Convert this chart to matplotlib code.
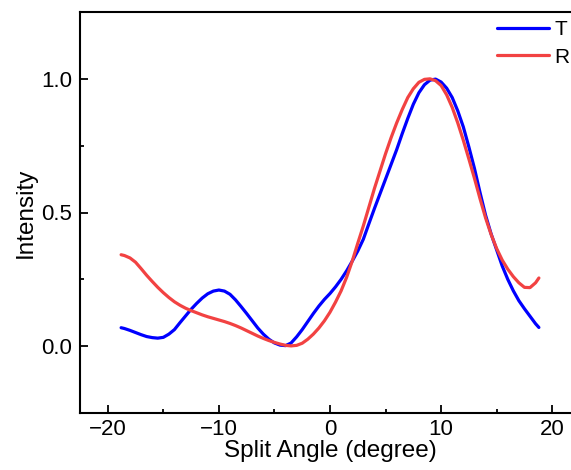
import numpy as np
import matplotlib
matplotlib.use("Agg")
import matplotlib.pyplot as plt
from matplotlib.ticker import MultipleLocator, FormatStrFormatter

# ── Data ──────────────────────────────────────────────────────────────────────
angle = [-18.8, -18.5, -18, -17.5, -17, -16.5, -16, -15.5, -15, -14.5, -14,
         -13.5, -13, -12.5, -12, -11.5, -11, -10.5, -10, -9.5, -9, -8.5, -8,
         -7.5, -7, -6.5, -6, -5.5, -5, -4.5, -4, -3.5, -3, -2.5, -2, -1.5, -1,
         -0.5, 0, 0.5, 1, 1.5, 2, 2.5, 3, 3.5, 4, 4.5, 5, 5.5, 6, 6.5, 7, 7.5,
         8, 8.5, 9, 9.5, 10, 10.5, 11, 11.5, 12, 12.5, 13, 13.5, 14, 14.5, 15,
         15.5, 16, 16.5, 17, 17.5, 18, 18.5, 18.8]

T = [0.069, 0.066, 0.059, 0.051, 0.043, 0.036, 0.032, 0.030, 0.033, 0.045,
     0.062, 0.088, 0.113, 0.138, 0.160, 0.180, 0.196, 0.206, 0.210, 0.206,
     0.194, 0.173, 0.148, 0.122, 0.095, 0.068, 0.045, 0.026, 0.012, 0.004,
     0.002, 0.012, 0.035, 0.062, 0.092, 0.122, 0.150, 0.175, 0.197, 0.222,
     0.250, 0.282, 0.318, 0.356, 0.400, 0.458, 0.515, 0.570, 0.625, 0.680,
     0.735, 0.795, 0.852, 0.905, 0.948, 0.978, 0.995, 0.999, 0.988, 0.965,
     0.930, 0.880, 0.820, 0.745, 0.665, 0.575, 0.490, 0.420, 0.360, 0.300,
     0.250, 0.207, 0.170, 0.140, 0.112, 0.084, 0.070]

R = [0.342, 0.339, 0.330, 0.314, 0.290, 0.265, 0.242, 0.220, 0.200, 0.182,
     0.166, 0.153, 0.142, 0.133, 0.125, 0.117, 0.110, 0.104, 0.098, 0.092,
     0.085, 0.077, 0.068, 0.058, 0.048, 0.038, 0.029, 0.021, 0.014, 0.008,
     0.003, 0.001, 0.003, 0.011, 0.026, 0.045, 0.068, 0.095, 0.127, 0.165,
     0.207, 0.258, 0.318, 0.385, 0.450, 0.520, 0.590, 0.655, 0.720, 0.780,
     0.835, 0.885, 0.930, 0.963, 0.987, 0.998, 1.000, 0.993, 0.975, 0.940,
     0.893, 0.835, 0.770, 0.700, 0.628, 0.552, 0.480, 0.418, 0.365, 0.322,
     0.288, 0.260, 0.237, 0.220, 0.219, 0.237, 0.255]

series_labels = ["T", "R"]
series_colors = ["#0000FF", "#F24242"]

# ── Figure ────────────────────────────────────────────────────────────────────
plt.rcParams["font.family"] = ["Liberation Sans", "DejaVu Sans"]

fig = plt.figure(figsize=(5.71, 4.70), dpi=100)
# the plot frame runs past the right edge of the picture (cropped figure)
ax = fig.add_axes([80 / 571, 57 / 470, 500 / 571, 401 / 470])

for y, lab, col in zip([T, R], series_labels, series_colors):
    ax.plot(angle, y, color=col, linewidth=2.3, label=lab,
            solid_capstyle="round", solid_joinstyle="round")

ax.set_xlim(-22.5, 22.5)
ax.set_ylim(-0.25, 1.25)
ax.xaxis.set_major_locator(MultipleLocator(10))
ax.xaxis.set_minor_locator(MultipleLocator(5))
ax.yaxis.set_major_locator(MultipleLocator(0.5))
ax.yaxis.set_minor_locator(MultipleLocator(0.25))
ax.yaxis.set_major_formatter(FormatStrFormatter("%.1f"))

ax.tick_params(which="both", direction="in", width=1.3, labelsize=16,
               top=False, right=False)
ax.tick_params(which="major", length=6)
ax.tick_params(which="minor", length=3)
ax.tick_params(axis="x", which="major", pad=4)
ax.tick_params(axis="y", which="major", pad=5.5)
for sp in ax.spines.values():
    sp.set_linewidth(1.5)
ax.spines["right"].set_visible(False)

ax.set_xlabel("Split Angle (degree)", fontsize=17.5, labelpad=0.5)
ax.set_ylabel("Intensity", fontsize=17.5, labelpad=3)

ax.legend(loc="upper left", bbox_to_anchor=(497 / 571, 1 - 20 / 470),
          bbox_transform=fig.transFigure, frameon=False, fontsize=15,
          borderpad=0, borderaxespad=0, handlelength=2.5,
          handletextpad=0.25, labelspacing=0.42)

fig.savefig("out.png", dpi=100)
